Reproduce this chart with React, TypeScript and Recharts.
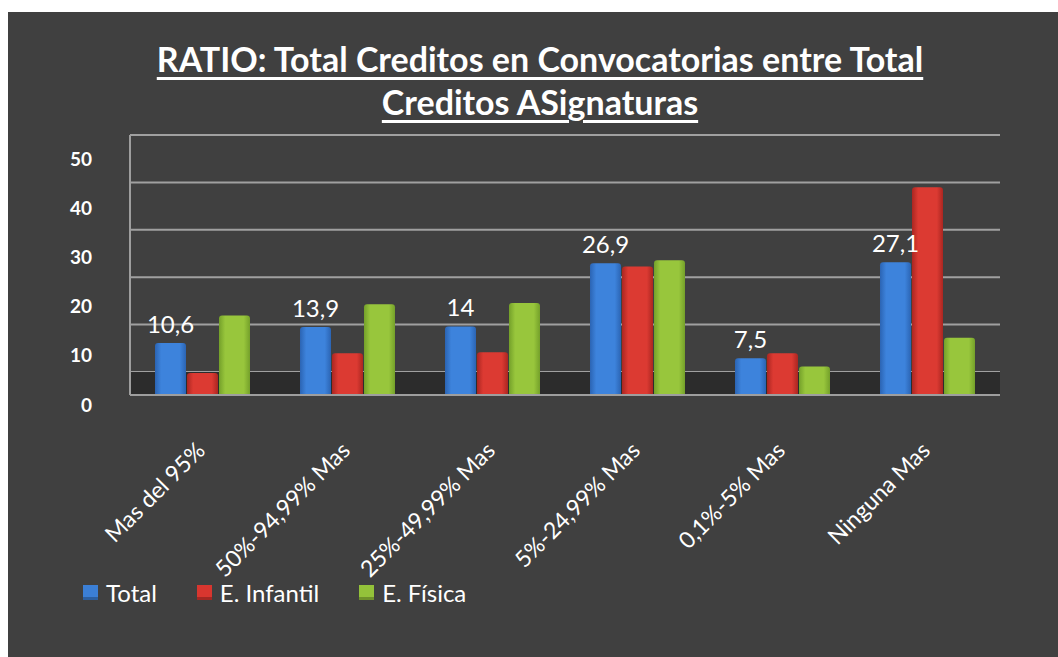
import { Bar, BarChart, CartesianGrid, LabelList, Legend, ReferenceArea, XAxis, YAxis } from 'recharts'

const categories = ['Mas del 95%', '50%-94,99% Mas', '25%-49,99% Mas', '5%-24,99% Mas', '0,1%-5% Mas', 'Ninguna Mas']
const totalValues = [10.6, 13.9, 14, 26.9, 7.5, 27.1]
const infantilValues = [4.5, 8.5, 8.7, 26.2, 8.5, 42.4]
const fisicaValues = [16.2, 18.5, 18.8, 27.5, 5.8, 11.7]
const valueTicks = [0, 10, 20, 30, 40, 50]
const seriesOrder = ['total', 'infantil', 'fisica']

const seriesColors: Record<string, string> = {
  total: '#3b7fd6',
  infantil: '#d8362f',
  fisica: '#94c23a',
}

const data = categories.map((name, i) => ({
  name,
  total: totalValues[i],
  infantil: infantilValues[i],
  fisica: fisicaValues[i],
}))

const FONT = 'Lato, "Open Sans", sans-serif'

function CategoryTick({ x, y, payload }: any) {
  const ax = x + 4
  const ay = y + 57
  return (
    <text
      x={ax}
      y={ay}
      transform={`rotate(-45 ${ax} ${ay})`}
      textAnchor="end"
      fill="#ffffff"
      fontSize={23}
      fontFamily={FONT}
    >
      {payload.value}
    </text>
  )
}

function ValueTick({ x, y, payload }: any) {
  return (
    <text x={x} y={y + 9} textAnchor="end" dominantBaseline="central" fill="#ffffff" fontSize={19} fontWeight={700} fontFamily={FONT}>
      {payload.value}
    </text>
  )
}

function LegendContent({ payload }: any) {
  const items = [...(payload || [])].sort(
    (a: any, b: any) => seriesOrder.indexOf(a.dataKey) - seriesOrder.indexOf(b.dataKey),
  )
  return (
    <div style={{ display: 'flex', alignItems: 'center', gap: 40, fontFamily: FONT }}>
      {items.map((entry: any) => (
        <div key={entry.value} style={{ display: 'flex', alignItems: 'center' }}>
          <span
            style={{
              display: 'inline-block',
              width: 15,
              height: 15,
              marginRight: 8,
              background: seriesColors[entry.dataKey],
              boxShadow: 'inset 0 -3px 0 rgba(0,0,0,0.25)',
            }}
          />
          <span style={{ color: '#ffffff', fontSize: 24 }}>{entry.value}</span>
        </div>
      ))}
    </div>
  )
}

function gradient(id: string, light: string, dark: string) {
  return (
    <linearGradient id={id} x1="0" y1="0" x2="1" y2="0">
      <stop offset="0%" stopColor={dark} />
      <stop offset="20%" stopColor={light} />
      <stop offset="80%" stopColor={light} />
      <stop offset="100%" stopColor={dark} />
    </linearGradient>
  )
}

export default function App() {
  return (
    <div
      style={{
        position: 'absolute',
        left: 8,
        top: 12,
        width: 1050,
        height: 645,
        background: '#404040',
        overflow: 'hidden',
      }}
    >
      <div
        style={{
          position: 'absolute',
          left: 14,
          top: 25,
          width: 1036,
          textAlign: 'center',
          color: '#ffffff',
          fontFamily: FONT,
          fontWeight: 700,
          fontSize: 34,
          lineHeight: '43px',
          textDecoration: 'underline',
          textUnderlineOffset: 5,
          textDecorationThickness: 3,
        }}
      >
        RATIO: Total Creditos en Convocatorias entre Total
        <br />
        Creditos ASignaturas
      </div>
      <BarChart
        width={1050}
        height={645}
        data={data}
        margin={{ top: 123, right: 58, bottom: 202, left: 62 }}
        barSize={31}
        barGap={1}
      >
        <defs>
          {gradient('gTotal', '#3d83dc', '#2b64b3')}
          {gradient('gInfantil', '#dc3a32', '#aa2621')}
          {gradient('gFisica', '#98c63c', '#74a02a')}
        </defs>
        <YAxis
          yAxisId="grid"
          hide
          width={0}
          type="number"
          domain={[-4.85, 50]}
          ticks={valueTicks}
          allowDataOverflow
        />
        <YAxis
          yAxisId="val"
          type="number"
          domain={[0, 53.06]}
          ticks={valueTicks}
          width={60}
          tickSize={0}
          tickMargin={38}
          tickLine={false}
          axisLine={{ stroke: '#9e9e9e', strokeWidth: 2 }}
          tick={<ValueTick />}
          allowDataOverflow
        />
        <ReferenceArea yAxisId="grid" y1={-4.85} y2={0} fill="#2c2c2c" fillOpacity={1} stroke="none" />
        <CartesianGrid yAxisId="grid" vertical={false} stroke="#a0a0a0" strokeWidth={2} />
        <XAxis
          dataKey="name"
          interval={0}
          height={60}
          tickSize={0}
          tickMargin={0}
          tickLine={false}
          axisLine={{ stroke: '#9e9e9e', strokeWidth: 2 }}
          tick={<CategoryTick />}
        />
        <Legend
          layout="horizontal"
          verticalAlign="middle"
          align="center"
          content={<LegendContent />}
          wrapperStyle={{ left: 75, top: 566, width: 560, height: 30 }}
        />
        <Bar yAxisId="val" dataKey="total" name="Total" fill="url(#gTotal)" radius={[3, 3, 0, 0]} isAnimationActive={false}>
          <LabelList
            dataKey="total"
            position="top"
            offset={10}
            fill="#ffffff"
            fontSize={24}
            fontFamily={FONT}
            formatter={(v: any) => String(v).replace('.', ',')}
          />
        </Bar>
        <Bar yAxisId="val" dataKey="infantil" name="E. Infantil" fill="url(#gInfantil)" radius={[3, 3, 0, 0]} isAnimationActive={false} />
        <Bar yAxisId="val" dataKey="fisica" name="E. Física" fill="url(#gFisica)" radius={[3, 3, 0, 0]} isAnimationActive={false} />
      </BarChart>
    </div>
  )
}
